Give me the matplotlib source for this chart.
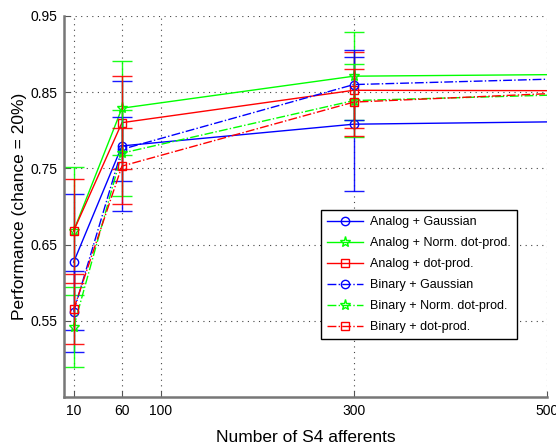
import numpy as np
import matplotlib.pyplot as plt

plt.rcParams['font.family'] = ['Liberation Sans', 'DejaVu Sans']

# number of S4 afferents (last point only continues the line to the axis edge)
n_afferents = [10, 60, 300, 500]

labels = ["Analog + Gaussian", "Analog + Norm. dot-prod.", "Analog + dot-prod.",
          "Binary + Gaussian", "Binary + Norm. dot-prod.", "Binary + dot-prod."]

analog_gauss = [0.627, 0.7795, 0.808, 0.811]
analog_norm = [0.668, 0.829, 0.871, 0.873]
analog_dot = [0.668, 0.810, 0.8525, 0.852]
binary_gauss = [0.562, 0.775, 0.860, 0.867]
binary_norm = [0.542, 0.770, 0.839, 0.846]
binary_dot = [0.565, 0.753, 0.837, 0.848]

analog_gauss_err = [0.089, 0.085, 0.088]
analog_norm_err = [0.084, 0.0616, 0.058]
analog_dot_err = [0.068, 0.061, 0.050]
binary_gauss_err = [0.053, 0.042, 0.046]
binary_norm_err = [0.052, 0.056, 0.048]
binary_dot_err = [0.046, 0.050, 0.044]

means = [analog_gauss, analog_norm, analog_dot, binary_gauss, binary_norm, binary_dot]
errs = [analog_gauss_err, analog_norm_err, analog_dot_err,
        binary_gauss_err, binary_norm_err, binary_dot_err]
colors = ['#0000ff', '#00ff00', '#ff0000'] * 2
markers = ['o', '*', 's'] * 2
styles = ['-'] * 3 + ['-.'] * 3
msizes = [6, 8, 6] * 2

fig = plt.figure(figsize=(5.56, 4.44), dpi=100)
ax = fig.add_axes([0.1151, 0.1059, 0.8687, 0.8581])

handles = []
for m, e, c, mk, ls, ms in zip(means, errs, colors, markers, styles, msizes):
    ax.errorbar(n_afferents[:3], m[:3], yerr=e, fmt='none', ecolor=c,
                elinewidth=1.0, capsize=7, capthick=1.0, alpha=0.9)
    line, = ax.plot(n_afferents, m, color=c, ls=ls, lw=1.0)
    dots, = ax.plot(n_afferents[:3], m[:3], ls='none', marker=mk, ms=ms,
                    mfc='none', mec=c, mew=1.0)
    handles.append((line, dots))

ax.set_xlim(0, 500)
ax.set_ylim(0.45, 0.95)
ax.set_xticks([10, 60, 100, 300, 500])
ax.set_yticks([0.55, 0.65, 0.75, 0.85, 0.95])
ax.set_yticklabels(['0.55', '0.65', '0.75', '0.85', '0.95'])
ax.tick_params(direction='in', length=4, labelsize=10, pad=5, color='#555555')
ax.grid(True, ls=(0, (1, 4)), color='#444444', lw=0.8)

for side in ['top', 'right']:
    ax.spines[side].set_visible(False)
for side in ['left', 'bottom']:
    ax.spines[side].set_color('#777777')
    ax.spines[side].set_linewidth(1.8)

ax.set_xlabel("Number of S4 afferents", fontsize=12.5, labelpad=9)
ax.set_ylabel("Performance (chance = 20%)", fontsize=12.5, labelpad=2)

leg = ax.legend(handles, labels, loc='upper left', bbox_to_anchor=(0.532, 0.491),
                borderaxespad=0, fontsize=9, handlelength=2.9, labelspacing=0.72,
                handletextpad=0.5, borderpad=0.5, fancybox=False, framealpha=1)
leg.get_frame().set_edgecolor('black')
leg.get_frame().set_linewidth(1.0)

fig.savefig('out.png', dpi=100)
